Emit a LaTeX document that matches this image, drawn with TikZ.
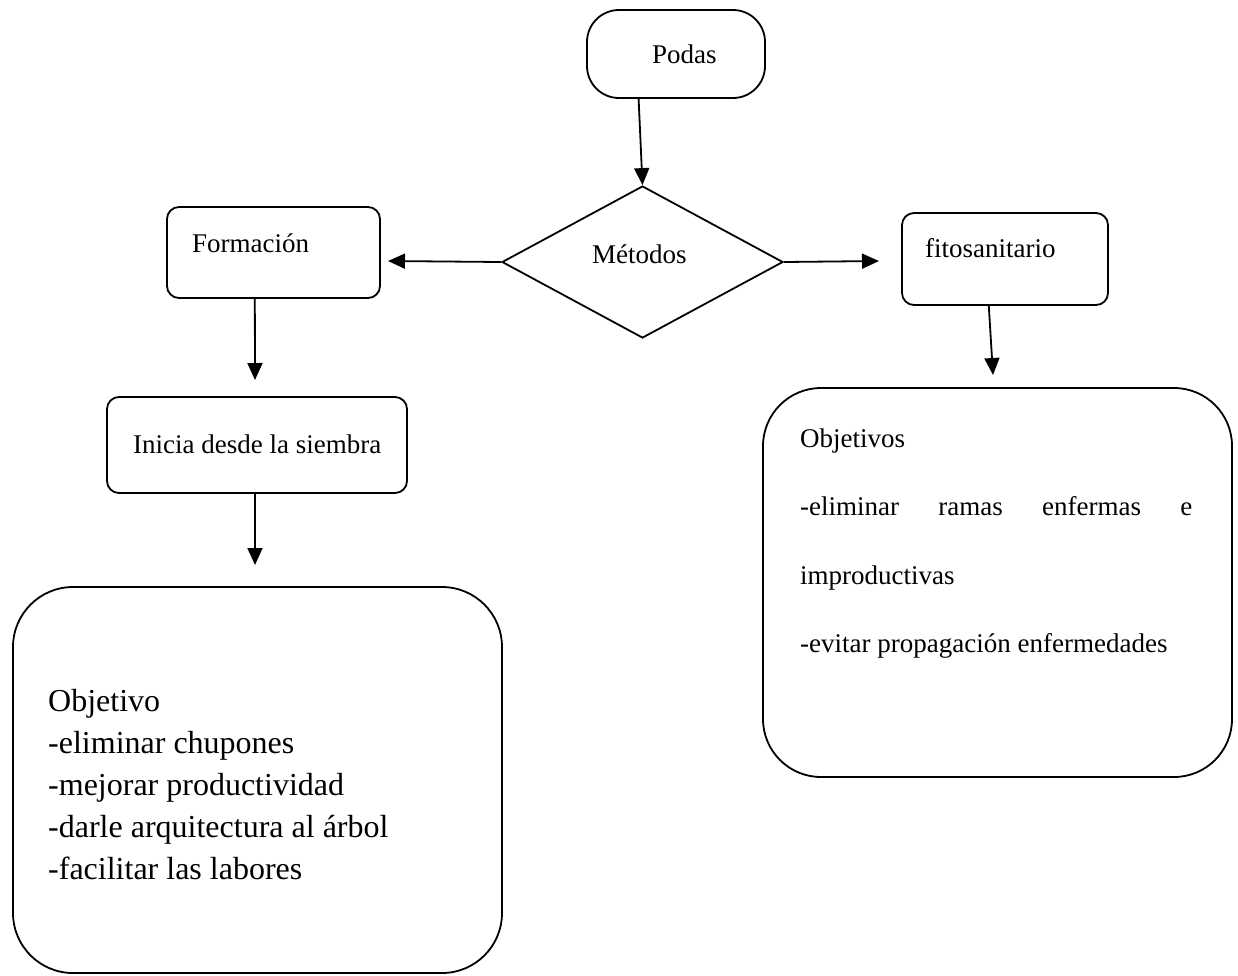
\documentclass[tikz,border=0pt]{standalone}
\usepackage{fontspec}
\setmainfont{Liberation Serif}
\usetikzlibrary{arrows.meta,shapes.geometric,calc}
\begin{document}
\begin{tikzpicture}[x=1pt,y=-1pt,
  box/.style={draw, line width=1.8pt, rounded corners=#1, inner sep=0pt},
  box/.default=12pt,
  lbl/.style={font=\fontsize{27}{27}\selectfont, inner sep=0pt, anchor=base west},
  big/.style={font=\fontsize{32}{32}\selectfont, inner sep=0pt, anchor=base west},
  arr/.style={line width=1.8pt, -{Triangle[length=17pt,width=15pt]}}]
\useasboundingbox (0,0) rectangle (1238,975);

% boxes
\node[box=32pt, minimum width=178pt, minimum height=88pt] (podas) at (676,54) {};
\node[draw, diamond, line width=1.8pt, inner sep=0pt,
      minimum width=281pt, minimum height=152pt] (met) at (642.5,262) {};
\node[box, minimum width=213pt, minimum height=91pt] (form) at (273.5,252.5) {};
\node[box, minimum width=206pt, minimum height=92pt] (fito) at (1005,259) {};
\node[box, minimum width=300pt, minimum height=96pt] (ini) at (257,445) {};
\node[box=60pt, minimum width=489pt, minimum height=386pt] (objL) at (257.5,780) {};
\node[box=58pt, minimum width=469pt, minimum height=389pt] (objR) at (997.5,582.5) {};

% labels
\node[lbl] (podasT) at (652,63) {Podas};
\node[lbl] (metT) at (592,263) {Métodos};
\node[lbl] (formT) at (192,252) {Formación};
\node[lbl] (fitoT) at (925,257) {fitosanitario};
\node[lbl] (iniT) at (133,453) {Inicia desde la siembra};

\foreach \t [count=\i] in {Objetivo, -eliminar chupones, -mejorar productividad,
    -darle arquitectura al árbol, -facilitar las labores}
  \node[big] (objL\i) at (48,{711+42*(\i-1)}) {\t};

\node[lbl] (objR1) at (800,447) {Objetivos};
\node[lbl] (objR2) at (800,515) {\hbox to 392pt{-eliminar\hfill ramas\hfill enfermas\hfill e}};
\node[lbl] (objR3) at (800,584) {improductivas};
\node[lbl] (objR4) at (800,652) {-evitar propagación enfermedades};

% connectors
\coordinate (formIn) at (388,261);
\coordinate (fitoIn) at (879,261);
\coordinate (iniIn) at (255,380);
\coordinate (objLIn) at (255,565);
\coordinate (objRIn) at (993,375);

\draw[arr] ($(podas.south west)!0.292!(podas.south east)$) -- (met.north);
\draw[arr] (met.west) -- (formIn);
\draw[arr] (met.east) -- (fitoIn);
\draw[arr] ($(form.south west)!0.413!(form.south east)$) -- (iniIn);
\draw[arr] (ini.south -| objLIn) -- (objLIn);
\draw[arr] ($(fito.south west)!0.422!(fito.south east)$) -- (objRIn);
\end{tikzpicture}
\end{document}
